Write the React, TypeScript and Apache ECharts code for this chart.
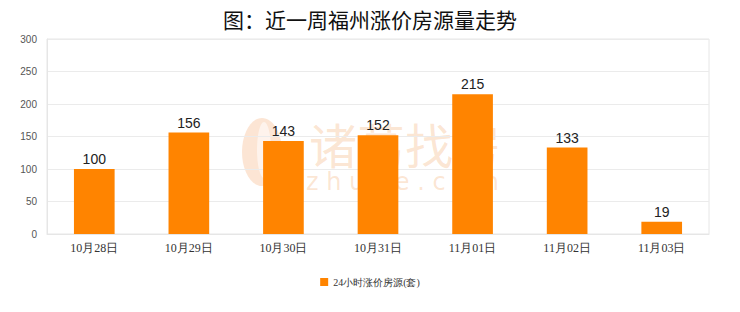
import React, { useEffect, useRef } from "react";
import * as echarts from "echarts";

const categories = ["10月28日", "10月29日", "10月30日", "10月31日", "11月01日", "11月02日", "11月03日"];
const riseCounts = [100, 156, 143, 152, 215, 133, 19];
const seriesName = "24小时涨价房源(套)";
const chartTitle = "图：近一周福州涨价房源量走势";

export default function App() {
  const ref = useRef<HTMLDivElement>(null);

  useEffect(() => {
    if (!ref.current) return;
    const chart = echarts.init(ref.current, null, { renderer: "svg" });
    const wmColor = "rgba(245, 175, 120, 0.32)";
    chart.setOption({
      animation: false,
      backgroundColor: "#fff",
      title: {
        text: chartTitle,
        left: "center",
        top: 3,
        textStyle: { fontSize: 21, fontWeight: "normal", color: "#111", fontFamily: "Noto Sans CJK SC" },
      },
      graphic: [
        {
          type: "group",
          z: -1,
          silent: true,
          children: [
            // brand mark: stylised feather
            { type: "ellipse", shape: { cx: 262, cy: 152, rx: 20, ry: 34 }, style: { fill: wmColor } },
            { type: "ellipse", shape: { cx: 264, cy: 150, rx: 7, ry: 28 }, style: { fill: "rgba(255,255,255,0.55)" } },
            {
              type: "text",
              x: 309,
              y: 120,
              style: { text: "诸葛找房", fontSize: 48, lineHeight: 46, fill: wmColor, fontFamily: "Noto Sans CJK SC" },
            },
            {
              type: "text",
              x: 306,
              y: 171,
              style: { text: "z h u g e . c o m", fontSize: 24, lineHeight: 22, fill: wmColor, fontFamily: "DejaVu Sans" },
            },
          ],
        },
      ],
      grid: {
        left: 47,
        right: 31,
        top: 39,
        bottom: 78,
        show: true,
        borderColor: "#e6e6e6",
        borderWidth: 1,
      },
      legend: {
        bottom: 20,
        left: "center",
        itemWidth: 8,
        itemHeight: 8,
        icon: "rect",
        textStyle: { fontSize: 10, color: "#333", fontFamily: "serif" },
        data: [seriesName],
      },
      xAxis: {
        type: "category",
        data: categories,
        axisLine: { lineStyle: { color: "#e6e6e6" } },
        axisTick: { show: false },
        axisLabel: { color: "#333", fontSize: 12, margin: 8, fontFamily: "serif" },
      },
      yAxis: {
        type: "value",
        min: 0,
        max: 300,
        interval: 50,
        axisLine: { show: true, lineStyle: { color: "#e6e6e6" } },
        axisTick: { show: false },
        axisLabel: { color: "#555", fontSize: 10, margin: 10 },
        splitLine: { lineStyle: { color: "#ebebeb" } },
      },
      series: [
        {
          name: seriesName,
          type: "bar",
          data: riseCounts,
          barWidth: "43%",
          itemStyle: { color: "#ff8400" },
          label: {
            show: true,
            position: "top",
            color: "#222",
            fontSize: 14,
            distance: 3,
          },
        },
      ],
    });
    return () => chart.dispose();
  }, []);

  return <div ref={ref} style={{ width: 740, height: 312, margin: -8 }} />;
}
